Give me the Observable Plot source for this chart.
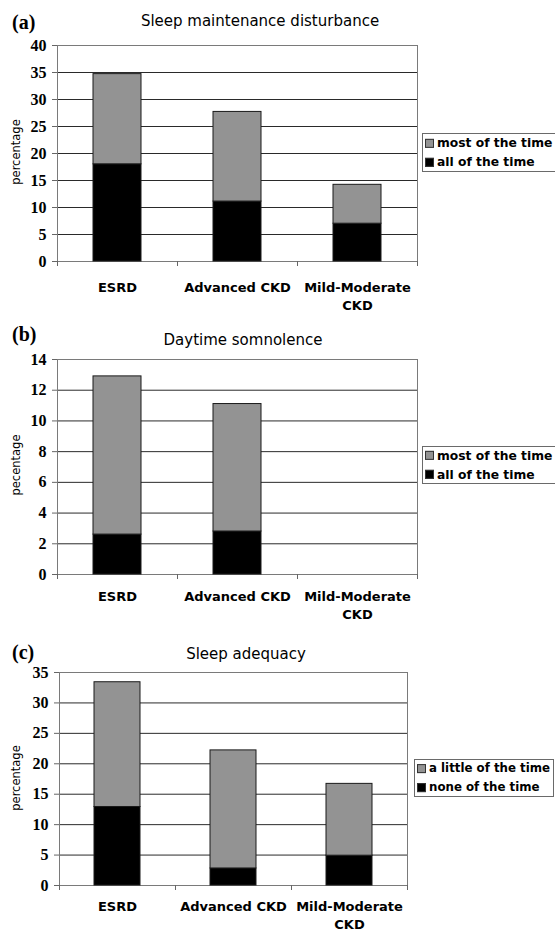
<!DOCTYPE html>
<html>
<head>
<meta charset="utf-8">
<script src="https://cdn.jsdelivr.net/npm/d3@7"></script>
<script src="https://cdn.jsdelivr.net/npm/@observablehq/plot@0.6"></script>
<style>
  html, body { margin: 0; padding: 0; background: #fff; }
  #page { position: relative; width: 555px; height: 932px; overflow: hidden; background: #fff; }
  .plabel { position: absolute; font: bold 20px "Liberation Serif", "Times New Roman", serif; line-height: 1; transform: translateY(-50%); }
  .title { position: absolute; font: 15px "DejaVu Sans", sans-serif; white-space: nowrap; transform: translate(-50%, -50%); line-height: 1; }
  .ylabel { position: absolute; font: 11.5px "DejaVu Sans", sans-serif; white-space: nowrap; transform: translate(-50%, -50%) rotate(-90deg); line-height: 1; }
  .legend { position: absolute; border: 1px solid #6a6a6a; background: #fff; box-sizing: border-box; }
  .legend .row { position: absolute; left: 2px; display: flex; align-items: center; white-space: nowrap; font-family: "DejaVu Sans", sans-serif; font-weight: bold; line-height: 1; transform: translateY(-50%); }
  .legend .sw { width: 7px; height: 7px; border: 1px solid #333; margin-right: 3px; flex: none; }
  .panelsvg { position: absolute; left: 0; }
</style>
</head>
<body>
<div id="page"></div>
<script>
// ---- data ----
const categories = ["ESRD", "Advanced CKD", "Mild-Moderate CKD"];
const categoryLabels = ["ESRD", "Advanced CKD", "Mild-Moderate\nCKD"];

const maintenanceAll = [18.0, 11.1, 7.0];     // all of the time
const maintenanceMost = [16.7, 16.6, 7.2];    // most of the time
const somnolenceAll = [2.6, 2.8, 0];          // all of the time
const somnolenceMost = [10.3, 8.3, 0];        // most of the time
const adequacyNone = [12.9, 2.8, 4.9];        // none of the time
const adequacyLittle = [20.5, 19.4, 11.8];    // a little of the time

const ticksA = [0, 5, 10, 15, 20, 25, 30, 35, 40];
const ticksB = [0, 2, 4, 6, 8, 10, 12, 14];
const ticksC = [0, 5, 10, 15, 20, 25, 30, 35];

const titles = ["Sleep maintenance disturbance", "Daytime somnolence", "Sleep adequacy"];
const panelLabels = ["(a)", "(b)", "(c)"];
const yLabels = ["percentage", "pecentage", "percentage"];
const legendA = ["most of the time", "all of the time"];
const legendB = ["most of the time", "all of the time"];
const legendC = ["a little of the time", "none of the time"];

const GREY = "#939393";
const BLACK = "#000";

const page = document.getElementById("page");

function makePanel(cfg) {
  const rows = [];
  categories.forEach((c, i) => {
    rows.push({cat: c, series: cfg.lowName, value: cfg.low[i]});
    rows.push({cat: c, series: cfg.highName, value: cfg.high[i]});
  });
  const data = rows.filter(d => d.value > 0);
  const step = (cfg.width - cfg.ml - cfg.mr) / categories.length;
  const yMax = cfg.ticks[cfg.ticks.length - 1];
  const plot = Plot.plot({
    width: cfg.width,
    height: cfg.mt + cfg.frameH + cfg.mb,
    marginLeft: cfg.ml, marginRight: cfg.mr, marginTop: cfg.mt, marginBottom: cfg.mb,
    style: {background: "none", overflow: "visible"},
    x: {domain: categories, paddingInner: 0.6, paddingOuter: 0.3, axis: null},
    y: {domain: [0, yMax], axis: null},
    color: {domain: [cfg.lowName, cfg.highName], range: [BLACK, GREY]},
    marks: [
      Plot.gridY(cfg.ticks, {stroke: "#2a2a2a", strokeOpacity: 1, strokeWidth: 1}),
      Plot.frame({stroke: "#7a7a7a"}),
      Plot.barY(data, {x: "cat", y: "value", fill: "series", stroke: "#1a1a1a", strokeWidth: 1}),
      Plot.axisY(cfg.ticks, {
        tickSize: 5, tickPadding: 6, stroke: "#666", fill: "#000",
        fontSize: 16, fontWeight: "bold", fontFamily: "'Liberation Serif', 'Times New Roman', serif",
        label: null
      }),
      Plot.ruleX(categories, {x: d => d, dx: -step / 2, y1: 0, y2: 0, insetBottom: -5, stroke: "#666"}),
      Plot.ruleX(categories.slice(-1), {x: d => d, dx: step / 2, y1: 0, y2: 0, insetBottom: -5, stroke: "#666"}),
      Plot.axisX({
        tickSize: 0, tickPadding: cfg.xPad,
        tickFormat: d => categoryLabels[categories.indexOf(d)],
        fontSize: 13, fontWeight: "bold", fontFamily: "'DejaVu Sans', sans-serif",
        lineHeight: 1.35, label: null, fill: "#000"
      })
    ]
  });
  plot.classList.add("panelsvg");
  plot.style.top = cfg.top + "px";
  page.appendChild(plot);

  const pl = document.createElement("div");
  pl.className = "plabel"; pl.textContent = cfg.panelLabel;
  pl.style.left = "12px"; pl.style.top = cfg.labelY + "px";
  page.appendChild(pl);

  const t = document.createElement("div");
  t.className = "title"; t.textContent = cfg.title;
  t.style.left = cfg.titleX + "px"; t.style.top = cfg.titleY + "px";
  page.appendChild(t);

  const yl = document.createElement("div");
  yl.className = "ylabel"; yl.textContent = cfg.yLabel;
  yl.style.left = "17px"; yl.style.top = cfg.yLabelY + "px";
  page.appendChild(yl);

  const lg = document.createElement("div");
  lg.className = "legend";
  lg.style.left = cfg.legend.x + "px"; lg.style.top = cfg.legend.y + "px";
  lg.style.width = cfg.legend.w + "px"; lg.style.height = cfg.legend.h + "px";
  const entries = [[cfg.highName, GREY], [cfg.lowName, BLACK]];
  entries.forEach(([name, col], i) => {
    const r = document.createElement("div");
    r.className = "row";
    r.style.fontSize = cfg.legend.fs + "px";
    r.style.top = (cfg.legend.h / 2 - 1 + (i === 0 ? -9.5 : 9.5)) + "px";
    const sw = document.createElement("span");
    sw.className = "sw"; sw.style.background = col;
    const tx = document.createElement("span");
    tx.textContent = name;
    r.appendChild(sw); r.appendChild(tx);
    lg.appendChild(r);
  });
  page.appendChild(lg);
}

makePanel({
  low: maintenanceAll, high: maintenanceMost, lowName: legendA[1], highName: legendA[0],
  ticks: ticksA, width: 420, ml: 57, mr: 3, mt: 10, frameH: 216, mb: 60, top: 35, xPad: 18,
  panelLabel: panelLabels[0], labelY: 22, title: titles[0], titleX: 260, titleY: 21,
  yLabel: yLabels[0], yLabelY: 152,
  legend: {x: 422, y: 133, w: 134, h: 39, fs: 12.3}
});

makePanel({
  low: somnolenceAll, high: somnolenceMost, lowName: legendB[1], highName: legendB[0],
  ticks: ticksB, width: 420, ml: 57, mr: 3, mt: 10, frameH: 215, mb: 60, top: 349, xPad: 14,
  panelLabel: panelLabels[1], labelY: 334, title: titles[1], titleX: 243, titleY: 340,
  yLabel: yLabels[1], yLabelY: 465,
  legend: {x: 422, y: 446, w: 134, h: 38, fs: 12.3}
});

makePanel({
  low: adequacyNone, high: adequacyLittle, lowName: legendC[1], highName: legendC[0],
  ticks: ticksC, width: 410, ml: 59, mr: 3, mt: 10, frameH: 213, mb: 60, top: 662, xPad: 13,
  panelLabel: panelLabels[2], labelY: 652, title: titles[2], titleX: 246, titleY: 654,
  yLabel: yLabels[2], yLabelY: 778,
  legend: {x: 414, y: 759, w: 140, h: 38, fs: 11.8}
});
</script>
</body>
</html>
